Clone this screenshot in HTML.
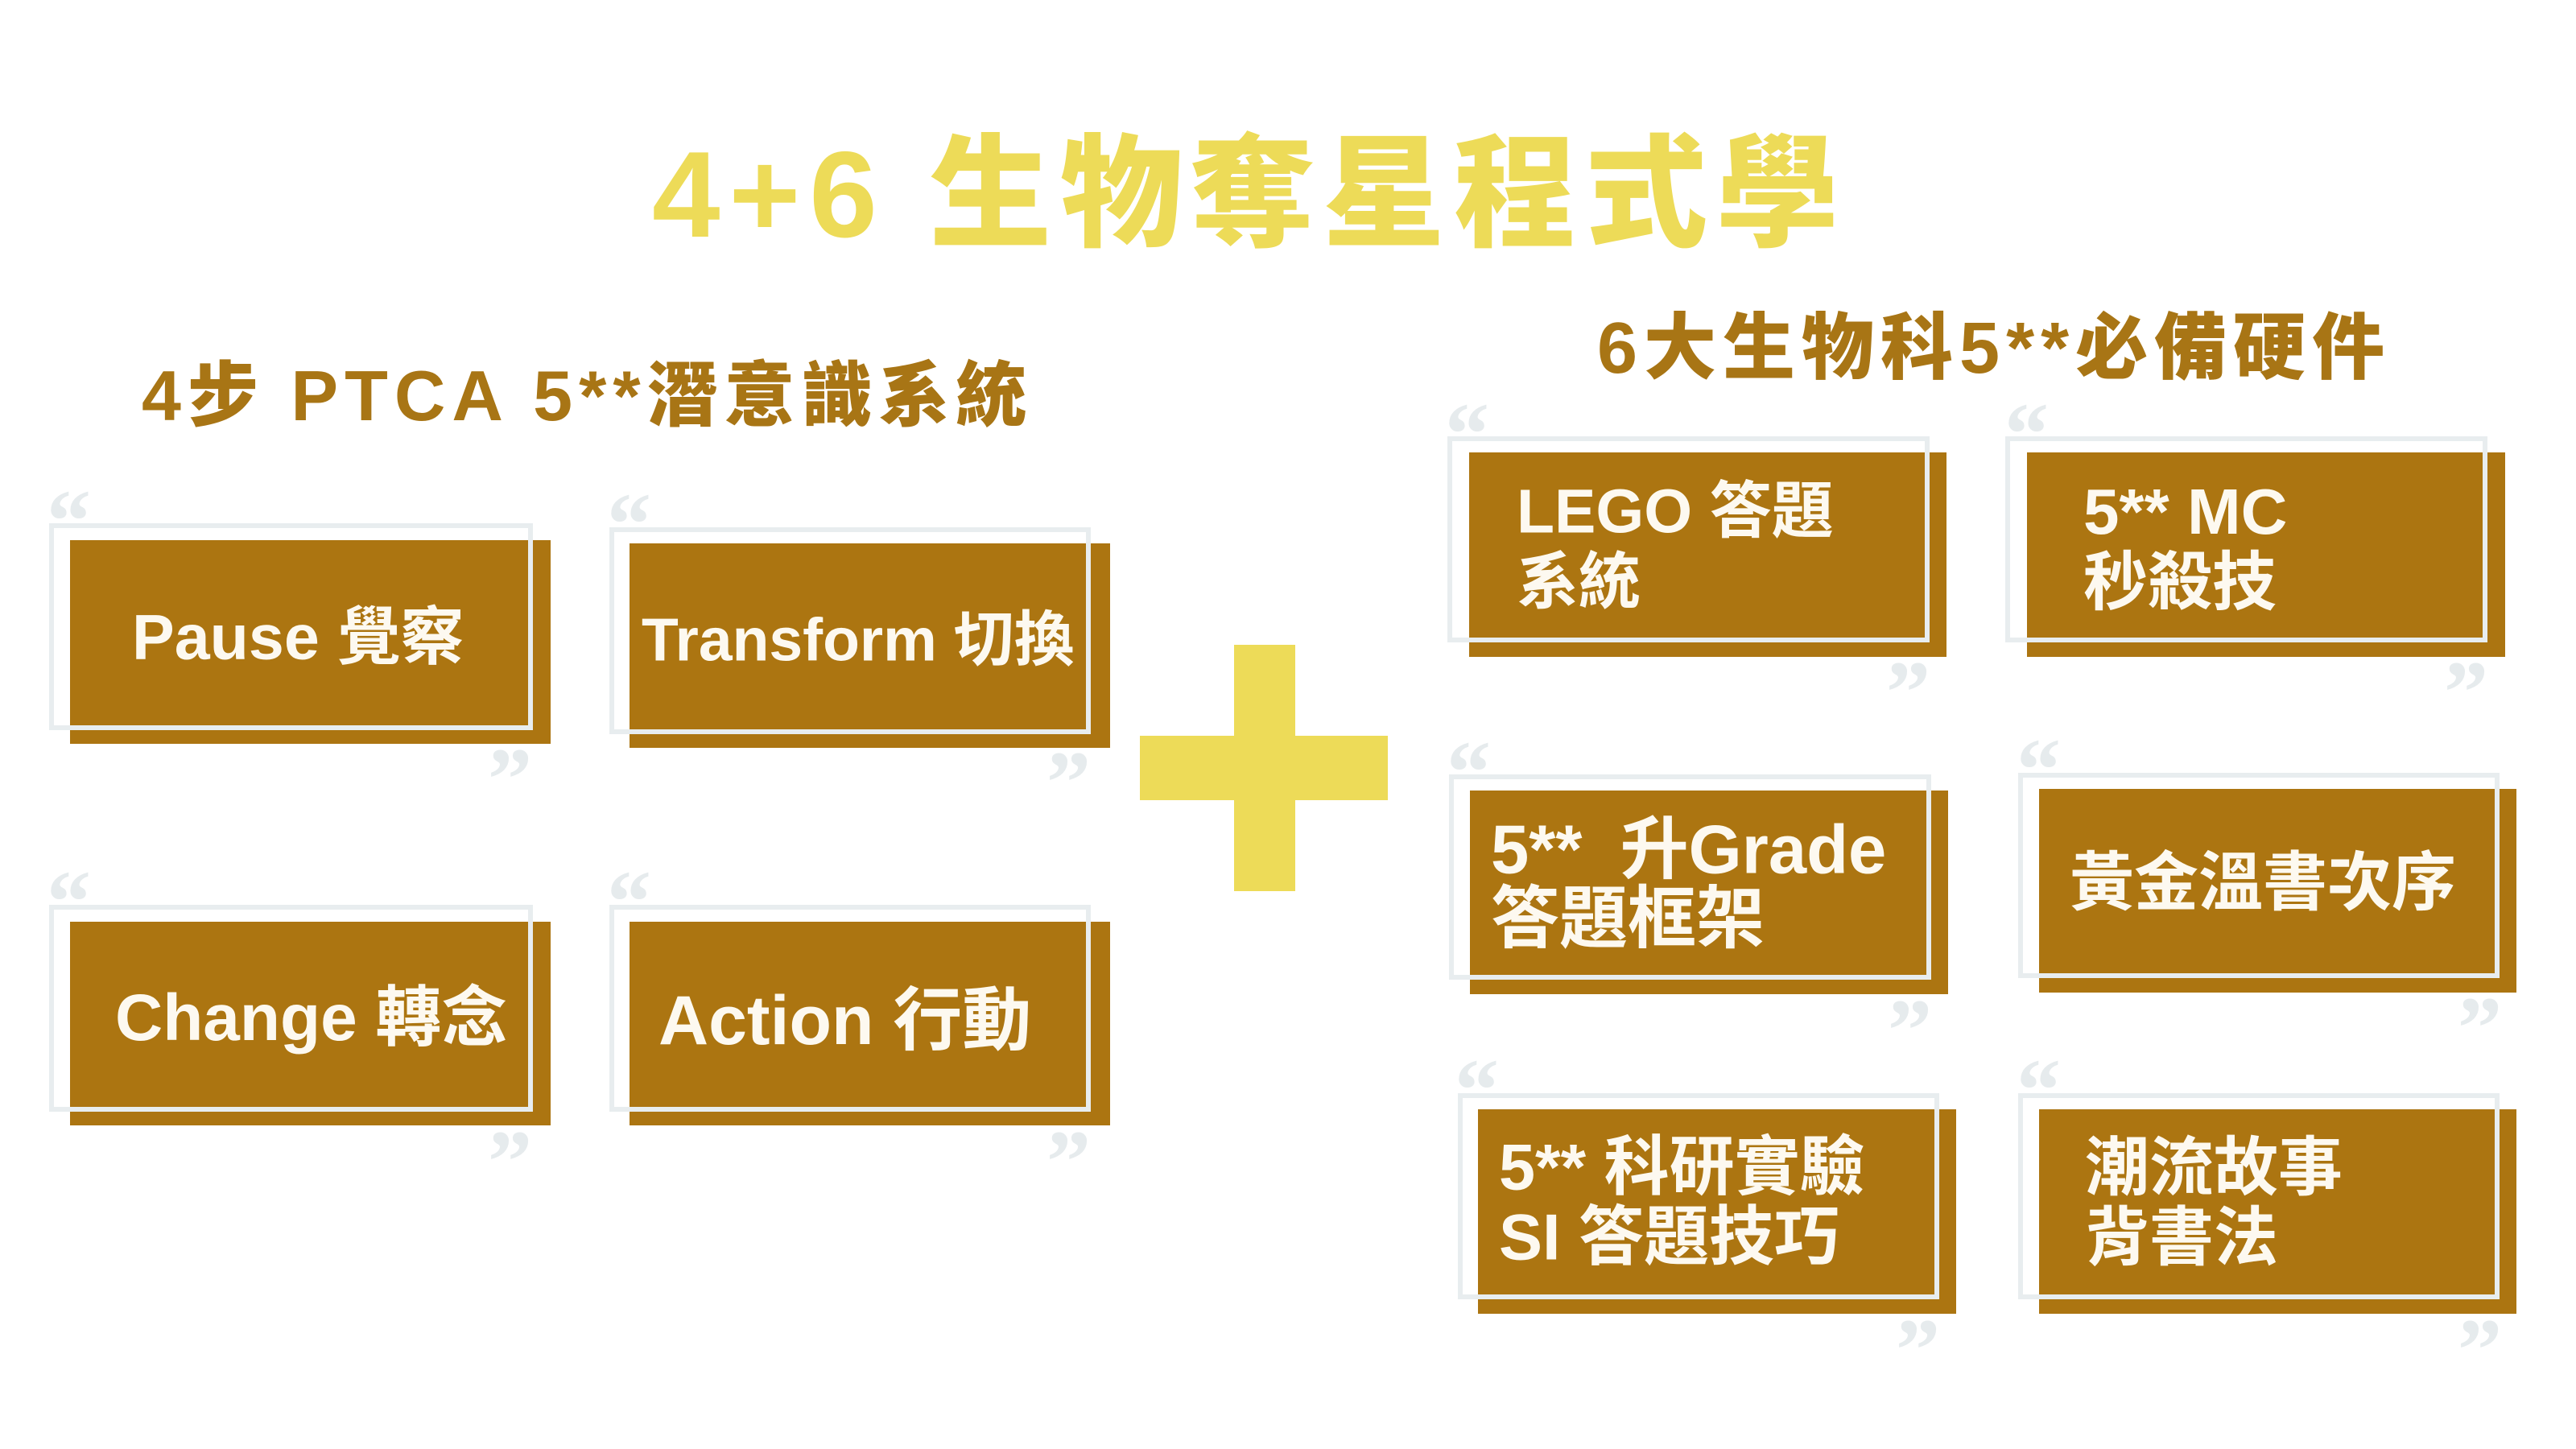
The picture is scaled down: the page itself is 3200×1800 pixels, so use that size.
<!DOCTYPE html>
<html><head><meta charset="utf-8"><style>
html,body{margin:0;padding:0;}
body{width:3200px;height:1800px;position:relative;background:#fff;overflow:hidden;font-family:"Liberation Sans","Noto Sans CJK TC",sans-serif;}
.b{position:absolute;background:#ac7511;}
.f{position:absolute;border:6px solid #e8edef;box-sizing:border-box;}
.q{position:absolute;font-family:"Liberation Serif",serif;font-weight:bold;font-size:110px;line-height:1;color:#e6ebed;}
.t{position:absolute;white-space:nowrap;color:#fdf9f0;font-weight:bold;line-height:1;transform:translateY(-50%);}
.h{position:absolute;white-space:nowrap;font-weight:900;line-height:1;transform:translateY(-50%);}
</style></head><body>

<div class="h" style="left:810px;top:242px;font-size:152px;color:#eddb58;letter-spacing:11px;">4+6 生物奪星程式學</div>
<div class="h" style="left:176px;top:492px;font-size:88px;color:#a87515;letter-spacing:8px;">4步 PTCA 5**潛意識系統</div>
<div class="h" style="left:1984px;top:433px;font-size:90px;color:#a87515;letter-spacing:8px;">6大生物科5**必備硬件</div>

<!-- plus -->
<div style="position:absolute;left:1533px;top:801px;width:76px;height:306px;background:#eddb58;"></div>
<div style="position:absolute;left:1416px;top:914px;width:308px;height:80px;background:#eddb58;"></div>

<!-- Pause -->
<div class="q" style="left:58px;top:592px;">“</div>
<div class="b" style="left:87px;top:671px;width:597px;height:253px;"></div>
<div class="f" style="left:61px;top:650px;width:601px;height:257px;"></div>
<div class="q" style="left:606px;top:913px;">”</div>
<div class="t" style="left:164px;top:791px;font-size:79px;">Pause 覺察</div>

<!-- Transform -->
<div class="q" style="left:754px;top:596px;">“</div>
<div class="b" style="left:782px;top:675px;width:597px;height:254px;"></div>
<div class="f" style="left:757px;top:655px;width:598px;height:257px;"></div>
<div class="q" style="left:1300px;top:917px;">”</div>
<div class="t" style="left:797px;top:795px;font-size:75px;">Transform 切換</div>

<!-- Change -->
<div class="q" style="left:58px;top:1065px;">“</div>
<div class="b" style="left:87px;top:1145px;width:597px;height:253px;"></div>
<div class="f" style="left:61px;top:1124px;width:601px;height:257px;"></div>
<div class="q" style="left:606px;top:1388px;">”</div>
<div class="t" style="left:143px;top:1265px;font-size:82px;">Change 轉念</div>

<!-- Action -->
<div class="q" style="left:754px;top:1065px;">“</div>
<div class="b" style="left:782px;top:1145px;width:597px;height:253px;"></div>
<div class="f" style="left:757px;top:1124px;width:598px;height:257px;"></div>
<div class="q" style="left:1300px;top:1388px;">”</div>
<div class="t" style="left:818px;top:1268px;font-size:86px;">Action 行動</div>

<!-- LEGO -->
<div class="q" style="left:1795px;top:484px;">“</div>
<div class="b" style="left:1825px;top:562px;width:593px;height:254px;"></div>
<div class="f" style="left:1798px;top:542px;width:599px;height:256px;"></div>
<div class="q" style="left:2343px;top:805px;">”</div>
<div class="t" style="left:1884px;top:636px;font-size:77px;">LEGO 答題</div>
<div class="t" style="left:1884px;top:724px;font-size:77px;">系統</div>

<!-- MC -->
<div class="q" style="left:2490px;top:484px;">“</div>
<div class="b" style="left:2518px;top:562px;width:594px;height:254px;"></div>
<div class="f" style="left:2491px;top:542px;width:599px;height:256px;"></div>
<div class="q" style="left:3036px;top:805px;">”</div>
<div class="t" style="left:2588px;top:636px;font-size:80px;">5** MC</div>
<div class="t" style="left:2588px;top:724px;font-size:80px;">秒殺技</div>

<!-- Grade -->
<div class="q" style="left:1797px;top:904px;">“</div>
<div class="b" style="left:1826px;top:982px;width:594px;height:253px;"></div>
<div class="f" style="left:1800px;top:962px;width:599px;height:255px;"></div>
<div class="q" style="left:2345px;top:1225px;">”</div>
<div class="t" style="left:1852px;top:1056px;font-size:85px;">5**&nbsp; 升Grade</div>
<div class="t" style="left:1852px;top:1142px;font-size:85px;">答題框架</div>

<!-- 黃金 -->
<div class="q" style="left:2505px;top:901px;">“</div>
<div class="b" style="left:2533px;top:980px;width:593px;height:253px;"></div>
<div class="f" style="left:2507px;top:960px;width:598px;height:255px;"></div>
<div class="q" style="left:3053px;top:1222px;">”</div>
<div class="t" style="left:2571px;top:1097px;font-size:80px;">黃金溫書次序</div>

<!-- SI -->
<div class="q" style="left:1807px;top:1299px;">“</div>
<div class="b" style="left:1836px;top:1378px;width:594px;height:254px;"></div>
<div class="f" style="left:1811px;top:1358px;width:598px;height:256px;"></div>
<div class="q" style="left:2355px;top:1622px;">”</div>
<div class="t" style="left:1862px;top:1451px;font-size:81px;">5** 科研實驗</div>
<div class="t" style="left:1862px;top:1538px;font-size:81px;">SI 答題技巧</div>

<!-- 潮流 -->
<div class="q" style="left:2505px;top:1299px;">“</div>
<div class="b" style="left:2533px;top:1378px;width:593px;height:254px;"></div>
<div class="f" style="left:2507px;top:1358px;width:598px;height:256px;"></div>
<div class="q" style="left:3053px;top:1622px;">”</div>
<div class="t" style="left:2590px;top:1451px;font-size:80px;">潮流故事</div>
<div class="t" style="left:2590px;top:1538px;font-size:80px;">背書法</div>

</body></html>
